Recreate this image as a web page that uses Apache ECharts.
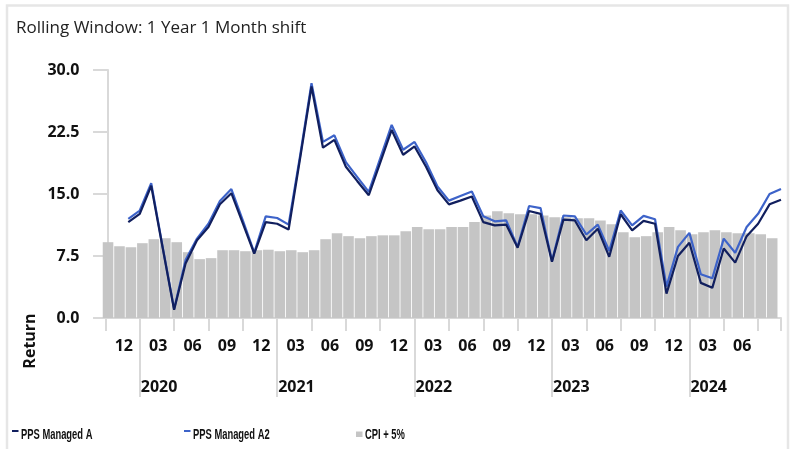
<!DOCTYPE html>
<html>
<head>
<meta charset="utf-8">
<script src="https://cdn.jsdelivr.net/npm/echarts@6/dist/echarts.min.js"></script>
<style>
  html, body { margin: 0; padding: 0; background: #ffffff; }
  #chart { width: 790px; height: 449px; }
</style>
</head>
<body>
<div id="chart"></div>
<script>
// Month-end dates of the rolling windows
const months = [
  '2019-09','2019-10','2019-11','2019-12',
  '2020-01','2020-02','2020-03','2020-04','2020-05','2020-06','2020-07','2020-08','2020-09','2020-10','2020-11','2020-12',
  '2021-01','2021-02','2021-03','2021-04','2021-05','2021-06','2021-07','2021-08','2021-09','2021-10','2021-11','2021-12',
  '2022-01','2022-02','2022-03','2022-04','2022-05','2022-06','2022-07','2022-08','2022-09','2022-10','2022-11','2022-12',
  '2023-01','2023-02','2023-03','2023-04','2023-05','2023-06','2023-07','2023-08','2023-09','2023-10','2023-11','2023-12',
  '2024-01','2024-02','2024-03','2024-04','2024-05','2024-06','2024-07','2024-08'
];

// 1-year rolling returns (%)
const managedA = [
  null, null, 11.6, 12.6, 16.0, 8.5, 1.0, 6.6, 9.4, 11.0,
  13.75, 15.1, 11.45, 7.8, 11.6, 11.4, 10.7, 19.3, 28.0, 20.6,
  21.55, 18.3, 16.55, 14.85, 18.8, 22.75, 19.75, 20.75, 18.3, 15.45,
  13.75, 14.2, 14.7, 11.6, 11.2, 11.3, 8.5, 12.95, 12.6, 6.8,
  11.9, 11.8, 9.4, 10.8, 7.4, 12.55, 10.6, 11.75, 11.4, 2.95,
  7.5, 9.1, 4.25, 3.65, 8.4, 6.7, 9.9, 11.4, 13.75, 14.3
];
const managedA2 = [
  null, null, 12.0, 13.0, 16.3, 8.6, 1.1, 7.0, 9.6, 11.4,
  14.15, 15.6, 11.8, 7.9, 12.3, 12.1, 11.3, 19.6, 28.4, 21.3,
  22.1, 18.85, 17.05, 15.25, 19.3, 23.35, 20.35, 21.3, 18.85, 15.9,
  14.2, 14.75, 15.3, 12.3, 11.7, 11.8, 8.6, 13.55, 13.3, 6.9,
  12.4, 12.3, 10.1, 11.3, 8.1, 13.0, 11.2, 12.35, 11.95, 3.8,
  8.6, 10.3, 5.3, 4.8, 9.6, 7.9, 11.0, 12.6, 15.0, 15.6
];
// CPI + 5% benchmark (%), available through 2024-07
const cpiPlus5 = [
  9.17, 8.68, 8.56, 9.05, 9.53, 9.65, 9.17, 7.96, 7.12, 7.24,
  8.2, 8.2, 8.08, 8.2, 8.26, 8.08, 8.2, 7.96, 8.2, 9.53,
  10.25, 9.9, 9.65, 9.9, 10.0, 10.0, 10.5, 11.0, 10.75, 10.75,
  11.0, 11.0, 11.6, 12.4, 12.9, 12.66, 12.55, 12.55, 12.4, 12.18,
  12.18, 12.06, 12.06, 11.8, 11.34, 10.37, 9.77, 9.9, 10.37, 11.0,
  10.6, 10.13, 10.37, 10.6, 10.37, 10.25, 10.25, 10.13, 9.65
];

const yTicks = [0, 7.5, 15, 22.5, 30];
const seriesNames = ['PPS Managed A', 'PPS Managed A2', 'CPI + 5%'];
const seriesColors = ['#111f5e', '#3d63c9', '#c5c5c5'];

const quarterEnds = ['03', '06', '09', '12'];
const monthOf = m => m.slice(5);
const isQuarterEnd = i => quarterEnds.includes(monthOf(months[i]));
const isYearEnd = i => monthOf(months[i]) === '12';

const boldFont = "'Open Sans', 'Noto Sans', sans-serif";
const axisGray = '#d9d9d9';

// Bottom key: marker + condensed bold caption for each series
function keyItem(name, color, x, marker) {
  return {
    type: 'group',
    silent: true,
    children: [
      {
        type: 'rect',
        shape: marker === 'line'
          ? { x: x, y: 430, width: 6.5, height: 2 }
          : { x: x, y: 431.5, width: 6.5, height: 5.5 },
        style: { fill: color }
      },
      {
        type: 'text',
        x: x + 9,
        y: 435.5,
        scaleX: 0.67,
        style: {
          text: name,
          font: "bold 14px 'Liberation Sans', Arial, sans-serif",
          fill: '#111',
          align: 'left',
          verticalAlign: 'middle'
        }
      }
    ]
  };
}

const chart = echarts.init(document.getElementById('chart'), null, { renderer: 'canvas' });

chart.setOption({
  animation: false,
  backgroundColor: '#ffffff',
  title: {
    text: 'Rolling Window: 1 Year 1 Month shift',
    left: 16,
    top: 20,
    padding: 0,
    textStyle: { fontFamily: "'Open Sans', 'Noto Sans', sans-serif", fontWeight: 'normal', fontSize: 17, color: '#222' }
  },
  graphic: [
    {
      type: 'rect',
      shape: { x: 7, y: 5.5, width: 781, height: 470 },
      style: { fill: 'none', stroke: '#e6e6e6', lineWidth: 2.5 },
      silent: true
    },
    {
      type: 'text',
      x: 30,
      y: 341,
      rotation: Math.PI / 2,
      style: {
        text: 'Return',
        font: "bold 16px 'Open Sans', 'Noto Sans', sans-serif",
        fill: '#111',
        align: 'center',
        verticalAlign: 'middle'
      },
      silent: true
    },
    keyItem(seriesNames[0], seriesColors[0], 12, 'line'),
    keyItem(seriesNames[1], seriesColors[1], 184, 'line'),
    keyItem(seriesNames[2], seriesColors[2], 356, 'box')
  ],
  grid: {
    left: 105.4,
    right: 9,
    top: 70,
    bottom: 131,
    containLabel: false,
    outerBoundsMode: 'none'
  },
  xAxis: [
    {
      // month axis: quarter ticks with quarter labels centred in each span
      type: 'category',
      data: months,
      boundaryGap: false,
      axisLine: { show: true, lineStyle: { color: axisGray, width: 2 } },
      axisTick: {
        show: true,
        length: 13,
        interval: i => isQuarterEnd(i) || i === months.length - 1,
        lineStyle: { color: axisGray, width: 2 }
      },
      axisLabel: {
        interval: i => i + 2 < months.length && isQuarterEnd(i + 2),
        formatter: (v, i) => monthOf(months[i + 2]),
        margin: 20,
        padding: [0, 0, 0, 14],
        align: 'center',
        fontFamily: boldFont,
        fontWeight: 'bold',
        fontSize: 16,
        color: '#111'
      },
      splitLine: { show: false }
    },
    {
      // year row: long separators at year boundaries
      type: 'category',
      data: months,
      boundaryGap: false,
      position: 'bottom',
      axisLine: { show: false },
      axisTick: {
        show: true,
        length: 79,
        interval: i => isYearEnd(i),
        lineStyle: { color: axisGray, width: 2 }
      },
      axisLabel: {
        interval: i => isYearEnd(i),
        formatter: (v, i) => months[i + 1].slice(0, 4),
        margin: 61,
        align: 'left',
        padding: [0, 0, 0, 1],
        fontFamily: boldFont,
        fontWeight: 'bold',
        fontSize: 16,
        color: '#111'
      },
      splitLine: { show: false }
    },
    {
      // placement scale for the benchmark bars
      type: 'value',
      show: false,
      min: -0.23,
      max: months.length - 1 - 0.23,
      splitLine: { show: false }
    }
  ],
  yAxis: {
    type: 'value',
    min: yTicks[0],
    max: yTicks[yTicks.length - 1],
    interval: yTicks[1] - yTicks[0],
    axisLine: { show: true, lineStyle: { color: axisGray, width: 2 } },
    axisTick: { show: true, length: 15, lineStyle: { color: axisGray, width: 2 } },
    axisLabel: {
      formatter: v => v.toFixed(1),
      margin: 26,
      fontFamily: boldFont,
      fontWeight: 'bold',
      fontSize: 16,
      color: '#111'
    },
    splitLine: { show: false }
  },
  series: [
    {
      name: seriesNames[2],
      type: 'bar',
      xAxisIndex: 2,
      barWidth: 10.6,
      itemStyle: { color: seriesColors[2] },
      data: cpiPlus5.map((v, i) => [i, v]),
      z: 2
    },
    {
      name: seriesNames[1],
      type: 'line',
      xAxisIndex: 0,
      data: managedA2,
      symbol: 'none',
      lineStyle: { color: seriesColors[1], width: 2.2 },
      itemStyle: { color: seriesColors[1] },
      z: 3
    },
    {
      name: seriesNames[0],
      type: 'line',
      xAxisIndex: 0,
      data: managedA,
      symbol: 'none',
      lineStyle: { color: seriesColors[0], width: 2.2 },
      itemStyle: { color: seriesColors[0] },
      z: 4
    }
  ]
});
</script>
</body>
</html>
